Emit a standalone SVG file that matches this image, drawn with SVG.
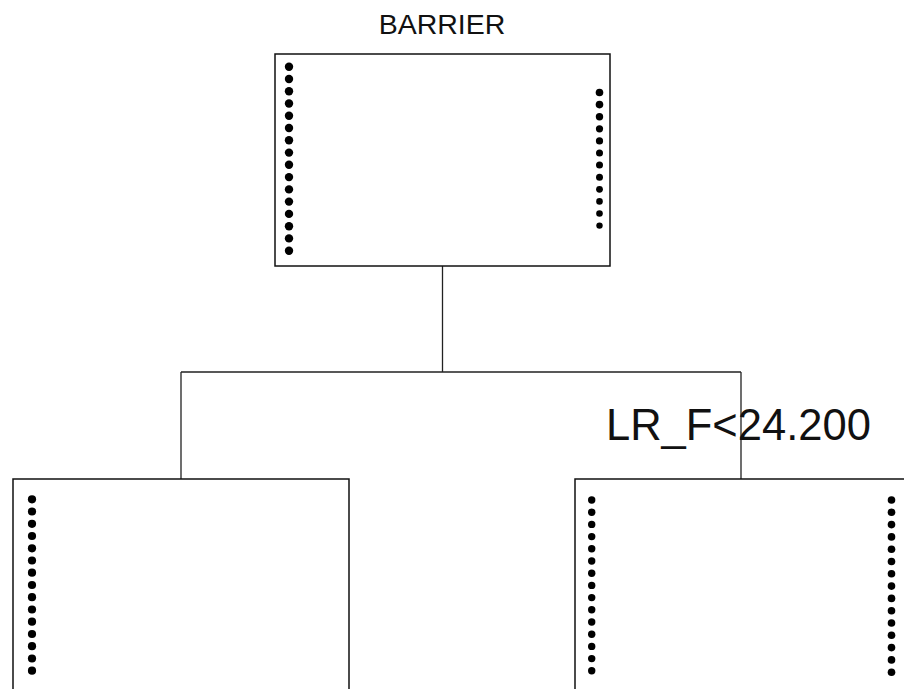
<svg xmlns="http://www.w3.org/2000/svg" width="904" height="689" viewBox="0 0 904 689">
<defs>
<style>
.box{fill:#fff;stroke:#111;stroke-width:1.5}
.con{fill:none;stroke:#222;stroke-width:1.3}
.dot{fill:#000}
.lbl{font-family:"Liberation Sans",Arial,sans-serif;fill:#111}
</style>
</defs>
<rect width="904" height="689" fill="#fff"/>
<g id="connectors">
<path class="con" d="M442.5 266 V372 M181 372 H741 M181 372 V479 M741 372 V479"/>
</g>
<g id="node-root">
<text class="lbl" x="442" y="34" font-size="28.5" text-anchor="middle">BARRIER</text>
<rect class="box" x="275" y="54" width="335" height="212"/>
<g class="dot">
<circle cx="289" cy="66.7" r="4.2"/><circle cx="289" cy="79" r="4.2"/><circle cx="289" cy="91.2" r="4.2"/><circle cx="289" cy="103.5" r="4.2"/><circle cx="289" cy="115.8" r="4.2"/><circle cx="289" cy="128" r="4.2"/><circle cx="289" cy="140.3" r="4.2"/><circle cx="289" cy="152.6" r="4.2"/><circle cx="289" cy="164.8" r="4.2"/><circle cx="289" cy="177.1" r="4.2"/><circle cx="289" cy="189.4" r="4.2"/><circle cx="289" cy="201.6" r="4.2"/><circle cx="289" cy="213.9" r="4.2"/><circle cx="289" cy="226.2" r="4.2"/><circle cx="289" cy="238.4" r="4.2"/><circle cx="289" cy="250.7" r="4.2"/>
<circle cx="599.5" cy="92.5" r="3.8"/><circle cx="599.5" cy="104.6" r="3.8"/><circle cx="599.5" cy="116.7" r="3.7"/><circle cx="599.5" cy="128.8" r="3.6"/><circle cx="599.5" cy="140.9" r="3.6"/><circle cx="599.5" cy="153" r="3.5"/><circle cx="599.5" cy="165.1" r="3.5"/><circle cx="599.5" cy="177.2" r="3.5"/><circle cx="599.5" cy="189.3" r="3.4"/><circle cx="599.5" cy="201.4" r="3.3"/><circle cx="599.5" cy="213.5" r="3.3"/><circle cx="599.5" cy="225.6" r="3.2"/>
</g>
</g>
<g id="node-left">
<path class="box" d="M13 689 V479 H349 V689"/>
<g class="dot">
<circle cx="32" cy="499.3" r="4.1"/><circle cx="32" cy="511.5" r="4.1"/><circle cx="32" cy="523.8" r="4.1"/><circle cx="32" cy="536" r="4.1"/><circle cx="32" cy="548.3" r="4.1"/><circle cx="32" cy="560.5" r="4.1"/><circle cx="32" cy="572.7" r="4.1"/><circle cx="32" cy="585" r="4.1"/><circle cx="32" cy="597.2" r="4.1"/><circle cx="32" cy="609.5" r="4.1"/><circle cx="32" cy="621.7" r="4.1"/><circle cx="32" cy="634" r="4.1"/><circle cx="32" cy="646.2" r="4.1"/><circle cx="32" cy="658.5" r="4.1"/><circle cx="32" cy="670.7" r="4.1"/>
</g>
</g>
<g id="node-right">
<text class="lbl" x="606" y="440" font-size="43.5">LR_F&lt;24.200</text>
<path class="box" d="M575 689 V479 H905"/>
<g class="dot">
<circle cx="591.7" cy="500" r="3.7"/><circle cx="591.7" cy="512.2" r="3.7"/><circle cx="591.7" cy="524.4" r="3.7"/><circle cx="591.7" cy="536.6" r="3.7"/><circle cx="591.7" cy="548.8" r="3.7"/><circle cx="591.7" cy="561" r="3.7"/><circle cx="591.7" cy="573.2" r="3.7"/><circle cx="591.7" cy="585.4" r="3.7"/><circle cx="591.7" cy="597.6" r="3.7"/><circle cx="591.7" cy="609.8" r="3.7"/><circle cx="591.7" cy="622" r="3.7"/><circle cx="591.7" cy="634.2" r="3.7"/><circle cx="591.7" cy="646.4" r="3.7"/><circle cx="591.7" cy="658.6" r="3.7"/><circle cx="591.7" cy="670.8" r="3.7"/>
<circle cx="891.5" cy="500" r="3.8"/><circle cx="891.5" cy="512.3" r="3.8"/><circle cx="891.5" cy="524.6" r="3.8"/><circle cx="891.5" cy="536.9" r="3.8"/><circle cx="891.5" cy="549.2" r="3.8"/><circle cx="891.5" cy="561.5" r="3.8"/><circle cx="891.5" cy="573.8" r="3.8"/><circle cx="891.5" cy="586.1" r="3.8"/><circle cx="891.5" cy="598.4" r="3.8"/><circle cx="891.5" cy="610.7" r="3.8"/><circle cx="891.5" cy="623" r="3.8"/><circle cx="891.5" cy="635.3" r="3.8"/><circle cx="891.5" cy="647.6" r="3.8"/><circle cx="891.5" cy="659.9" r="3.8"/><circle cx="891.5" cy="672.2" r="3.8"/>
</g>
</g>
</svg>
